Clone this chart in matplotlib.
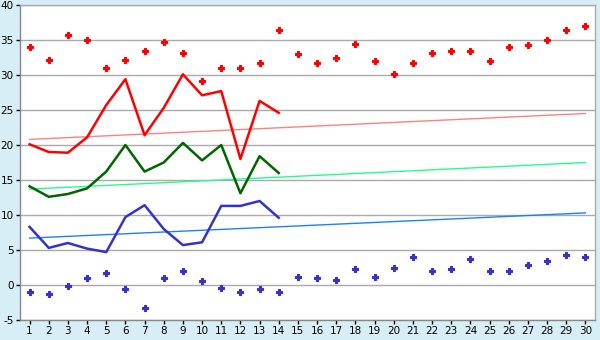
import matplotlib.pyplot as plt

plt.rcParams["axes.unicode_minus"] = False

# x positions 1..30
days = list(range(1, 31))
days_line = list(range(1, 15))

# upper scatter (red) and lower scatter (blue)
red_points = [34.0, 32.2, 35.7, 35.0, 31.0, 32.2, 33.4, 34.7, 33.2, 29.2,
              31.0, 31.0, 31.7, 36.4, 33.0, 31.7, 32.5, 34.4, 32.0, 30.1,
              31.7, 33.2, 33.4, 33.4, 32.0, 34.0, 34.3, 35.0, 36.4, 37.0]
blue_points = [-1.0, -1.3, -0.1, 1.0, 1.7, -0.6, -3.3, 1.0, 2.0, 0.6,
               -0.4, -1.0, -0.6, -1.0, 1.1, 1.0, 0.7, 2.3, 1.1, 2.4,
               4.0, 2.0, 2.3, 3.7, 2.0, 2.0, 2.9, 3.4, 4.3, 4.0]

# lines for the first 14 days
red_line = [20.1, 19.0, 18.9, 21.1, 25.7, 29.4, 21.4, 25.3, 30.1, 27.1,
            27.7, 18.0, 26.3, 24.6]
green_line = [14.1, 12.6, 13.0, 13.8, 16.2, 20.0, 16.2, 17.5, 20.3, 17.8,
              20.0, 13.1, 18.4, 16.0]
blue_line = [8.3, 5.3, 6.0, 5.2, 4.7, 9.7, 11.4, 8.0, 5.7, 6.1,
             11.3, 11.3, 12.0, 9.6]

# trend lines: value at day 1 and day 30
trend_x = [1, 30]
red_trend = [20.8, 24.5]
green_trend = [13.7, 17.5]
blue_trend = [6.7, 10.3]

y_ticks = list(range(-5, 45, 5))

BG = "#d8eef6"
GRID = "#aaaaaa"

fig = plt.figure(figsize=(6, 3.4), dpi=100, facecolor=BG)
ax = fig.add_axes([20 / 600, 20 / 340, 575 / 600, 315 / 340])
ax.set_facecolor("white")

ax.plot(trend_x, red_trend, color="#ff8080", linewidth=1)
ax.plot(trend_x, green_trend, color="#22ff88", linewidth=1)
ax.plot(trend_x, blue_trend, color="#1a80ff", linewidth=1)

ax.plot(days_line, red_line, color="#ff0000", linewidth=1.8)
ax.plot(days_line, green_line, color="#006600", linewidth=1.8)
ax.plot(days_line, blue_line, color="#3333cc", linewidth=1.8)

ax.plot(days, red_points, linestyle="none", marker="P", markersize=4.5,
        color="#ff0000", markeredgewidth=0.8)
ax.plot(days, blue_points, linestyle="none", marker="P", markersize=4.5,
        color="#3333cc", markeredgewidth=0.8)

ax.set_xlim(0.5, 30.5)
ax.set_ylim(-5, 40)
ax.set_xticks(days)
ax.set_yticks(y_ticks)
ax.grid(axis="y", color=GRID, linewidth=1)
ax.set_axisbelow(True)
for side in ax.spines.values():
    side.set_color(GRID)
    side.set_linewidth(1)
ax.tick_params(axis="both", colors="black", labelsize=7.5, length=3,
               width=1, pad=1.5)
ax.spines["left"].set_color("#888888")
ax.spines["bottom"].set_color("#888888")

fig.savefig("out.png", dpi=100, facecolor=BG)
